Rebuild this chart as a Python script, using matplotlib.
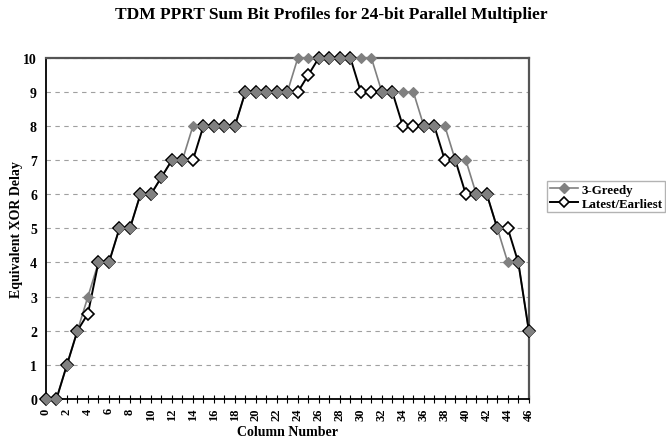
import numpy as np
import matplotlib.pyplot as plt

plt.rcParams['font.family'] = ['Liberation Serif', 'DejaVu Serif']
plt.rcParams['font.weight'] = 'bold'

columns = list(range(47))
greedy = [0, 0, 1, 2, 3, 4, 4, 5, 5, 6, 6, 6.5, 7, 7, 8, 8, 8, 8, 8, 9,
          9, 9, 9, 9, 10, 10, 10, 10, 10, 10, 10, 10, 9, 9, 9, 9, 8, 8, 8, 7,
          7, 6, 6, 5, 4, 4, 2]
latest = [0, 0, 1, 2, 2.5, 4, 4, 5, 5, 6, 6, 6.5, 7, 7, 7, 8, 8, 8, 8, 9,
          9, 9, 9, 9, 9, 9.5, 10, 10, 10, 10, 9, 9, 9, 9, 8, 8, 8, 8, 7, 7,
          6, 6, 6, 5, 5, 4, 2]

fig = plt.figure(figsize=(6.66, 4.39), dpi=100)
ax = fig.add_axes([0.069, 0.089, 0.725, 0.777])

grey = '#808080'
# lines first, then markers (excel style)
ax.plot(columns, greedy, color=grey, lw=1.2, zorder=3, clip_on=False)
ax.plot(columns, latest, color='black', lw=1.4, zorder=4, clip_on=False)
ax.plot(columns, latest, ls='none', marker='D', ms=6, mfc='white', mec='black',
        mew=1.2, zorder=5, clip_on=False)
ax.plot(columns, greedy, ls='none', marker='D', ms=4.6, mfc=grey, mec=grey,
        mew=0.8, zorder=6, clip_on=False)

# legend proxies
h1, = ax.plot([], [], color=grey, lw=1.2, marker='D', ms=4.6, mfc=grey, mec=grey)
h2, = ax.plot([], [], color='black', lw=1.4, marker='D', ms=5, mfc='white',
              mec='black', mew=1.2)
leg = fig.legend([h1, h2], ['3-Greedy', 'Latest/Earliest'],
                 loc='upper left', bbox_to_anchor=(0.822, 0.585),
                 fontsize=9.3, frameon=True, fancybox=False, borderpad=0.2,
                 handlelength=2.2, labelspacing=0.15, handletextpad=0.25,
                 borderaxespad=0)
leg.get_frame().set_edgecolor('#a0a0a0')
leg.get_frame().set_linewidth(1.0)

ax.set_xlim(0, 46)
ax.set_ylim(0, 10)
ax.set_xticks(range(0, 47, 2))
ax.set_xticks(range(0, 47), minor=True)
ax.set_yticks(range(0, 11))
ax.tick_params(axis='x', which='both', direction='inout', length=6, width=0.8,
               labelrotation=90, labelsize=9, pad=3)
ax.tick_params(axis='y', length=0, labelsize=10, pad=6.5)
for lab in ax.get_xticklabels() + ax.get_yticklabels():
    lab.set_fontweight('bold')

ax.yaxis.grid(True, ls=(0, (4, 4)), color='#a0a0a0', lw=0.8)
ax.set_axisbelow(True)

for s in ['left', 'bottom']:
    ax.spines[s].set_color('black')
    ax.spines[s].set_linewidth(1.3)
for s in ['top', 'right']:
    ax.spines[s].set_color('#555555')
    ax.spines[s].set_linewidth(1.6)

ax.set_xlabel('Column Number', fontsize=10, fontweight='bold')
ax.set_ylabel('Equivalent XOR Delay', fontsize=10, fontweight='bold')
ax.xaxis.set_label_coords(0.5, -0.095)
ax.yaxis.set_label_coords(-0.06, 0.5)
ax.xaxis.label.set_va('center')
ax.yaxis.label.set_va('center')
fig.text(0.497, 0.965, 'TDM PPRT Sum Bit Profiles for 24-bit Parallel Multiplier',
         ha='center', va='center', fontsize=12.5, fontweight='bold')

fig.savefig('out.png', dpi=100)
